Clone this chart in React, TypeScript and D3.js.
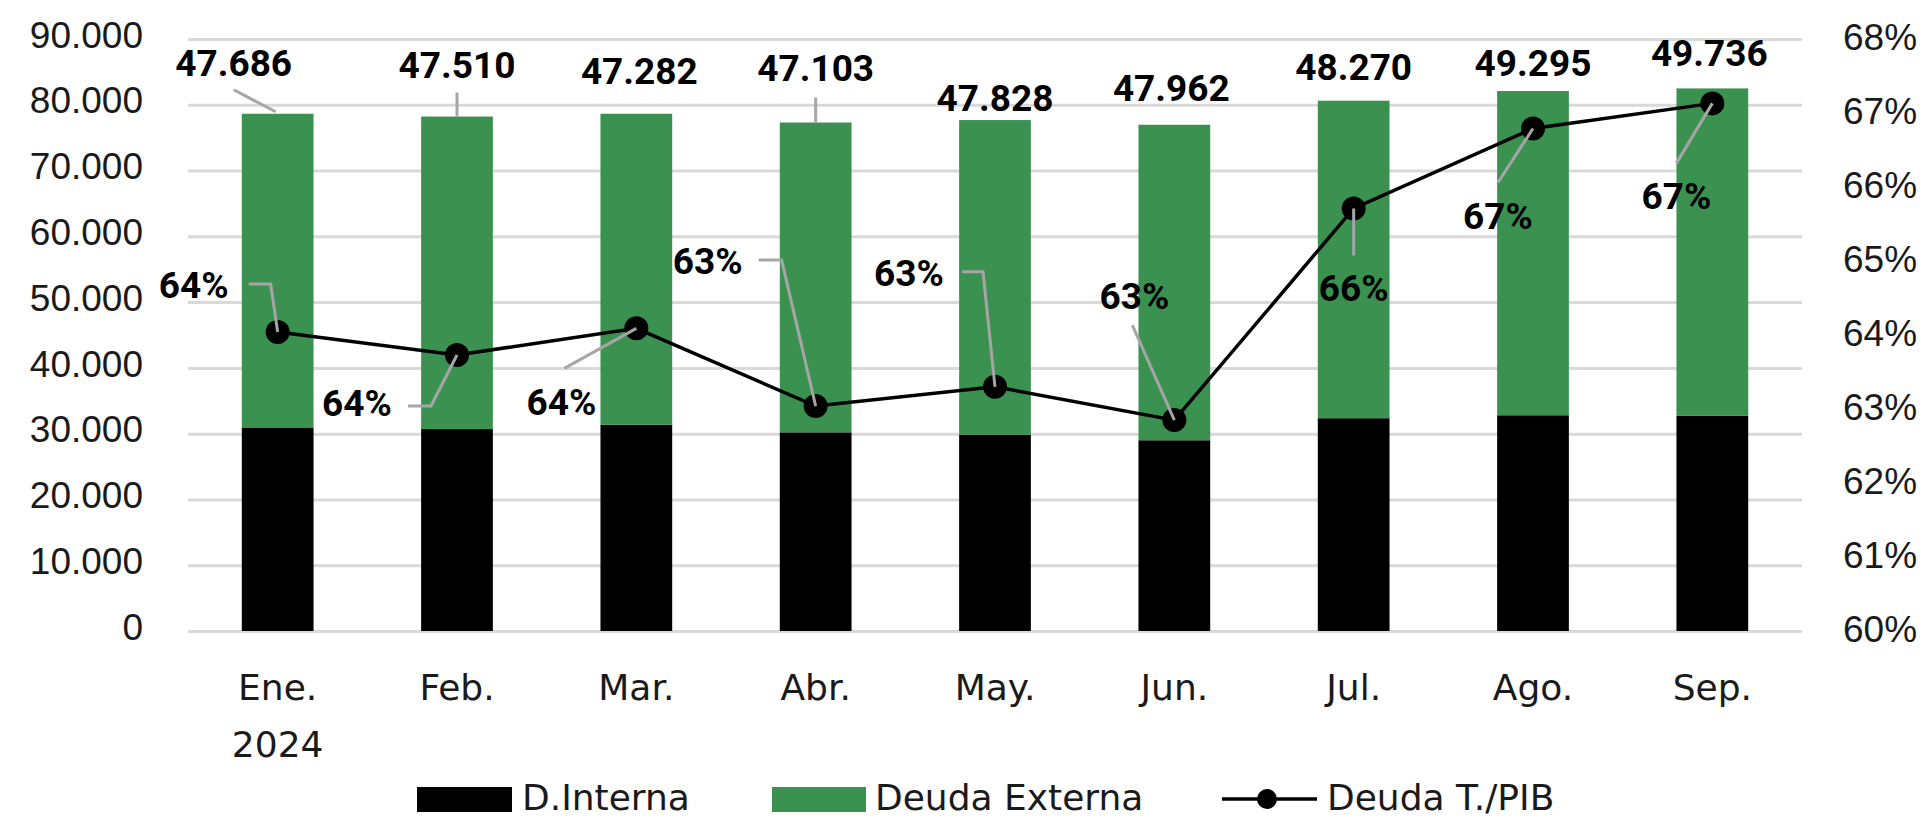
import React, { useEffect, useRef } from 'react';
import * as d3 from 'd3';

// months of 2024 (first one carries the year underneath)
const months = ['Ene.', 'Feb.', 'Mar.', 'Abr.', 'May.', 'Jun.', 'Jul.', 'Ago.', 'Sep.'];
const yearLabel = '2024';

// stacked bars, millions
const deudaInterna = [30950, 30700, 31350, 30200, 29850, 29000, 32350, 32800, 32750];
const deudaExterna = [47686, 47510, 47282, 47103, 47828, 47962, 48270, 49295, 49736];

// line on right axis, % of GDP
const deudaPib = [64.04, 63.73, 64.09, 63.04, 63.3, 62.85, 65.71, 66.79, 67.13];

const leftTicks = [0, 10000, 20000, 30000, 40000, 50000, 60000, 70000, 80000, 90000];
const rightTicks = [60, 61, 62, 63, 64, 65, 66, 67, 68];
const legendNames = ['D.Interna', 'Deuda Externa', 'Deuda T./PIB'];

// where Excel dragged the labels (offset from bar top / marker) and their leader lines
const barLabelPos = [[-44, -51], [0, -52], [3, -43], [0, -55], [0, -22], [-3, -37], [0, -34], [0, -28], [-3, -36]];
const barLeaders = [[[-44, -24], [-2, -2]], [[0, -24], [0, 0]], null, [[0, -25], [0, 0]], null, null, null, null, null];
const pctLabelPos = [[-84, -47], [-100, 48], [-75, 73], [-108, -145], [-86, -114], [-40, -124], [0, 79], [-35, 87], [-36, 92]];
const pctLeaders = [
  [[-29, -48], [-7, -48], [0, 0]],
  [[-49, 51], [-26, 51], [0, 0]],
  [[-72, 40], [0, 0]],
  [[-57, -146], [-34, -146], [0, 0]],
  [[-33, -115], [-12, -115], [0, 0]],
  [[-42, -95], [0, 0]],
  [[0, 0], [0, 47]],
  [[-35, 54], [0, 0]],
  [[-36, 60], [0, 0]],
];

const GREEN = '#3a9150';
const GRID = '#d9d9d9';
const LEADER = '#a6a6a6';

export default function App() {
  const ref = useRef<SVGSVGElement>(null);

  useEffect(() => {
    const width = 1926;
    const height = 820;
    const left = 188, right = 1802, top = 39, bottom = 631;

    const svg = d3.select(ref.current);
    svg.selectAll('*').remove();
    svg.append('rect').attr('width', width).attr('height', height).attr('fill', '#fff');

    const es = d3.formatLocale({ decimal: ',', thousands: '.', grouping: [3], currency: ['', ''] });
    const fmtNum = es.format(',d');
    const fmtPct = (v: number) => `${Math.round(v)}%`;

    const x = d3.scaleBand<string>()
      .domain(months)
      .range([left, right])
      .paddingInner(0.6)
      .paddingOuter(0.3);
    const yL = d3.scaleLinear().domain([0, 90000]).range([bottom, top]);
    const yR = d3.scaleLinear().domain([60, 68]).range([bottom, top]);
    const cx = (m: string) => (x(m) as number) + x.bandwidth() / 2;

    // gridlines
    const grid = svg.append('g')
      .attr('transform', `translate(${left},0)`)
      .call(d3.axisLeft(yL).tickValues(leftTicks).tickSize(-(right - left)).tickFormat(() => ''));
    grid.select('.domain').remove();
    grid.selectAll('line').attr('stroke', GRID).attr('stroke-width', 3);

    // left axis labels
    const axL = svg.append('g')
      .attr('transform', `translate(${left},0)`)
      .call(d3.axisLeft(yL).tickValues(leftTicks).tickSize(0).tickPadding(45).tickFormat((d) => fmtNum(d as number)));
    axL.select('.domain').remove();
    axL.selectAll('text')
      .attr('font-family', '"Liberation Sans", Arial, sans-serif')
      .attr('font-size', 37)
      .attr('fill', '#1a1a1a')
      .attr('dy', '0.22em');

    // right axis labels
    const axR = svg.append('g')
      .attr('transform', `translate(${right},0)`)
      .call(d3.axisRight(yR).tickValues(rightTicks).tickSize(0).tickPadding(41).tickFormat((d) => `${d}%`));
    axR.select('.domain').remove();
    axR.selectAll('text')
      .attr('font-family', '"Liberation Sans", Arial, sans-serif')
      .attr('font-size', 37)
      .attr('fill', '#1a1a1a')
      .attr('dy', '0.28em');

    // stacked bars
    const stackData = months.map((m, i) => ({ m, interna: deudaInterna[i], externa: deudaExterna[i] }));
    const series = d3.stack<any>().keys(['interna', 'externa'])(stackData);
    const colors = ['#000000', GREEN];
    series.forEach((s, k) => {
      svg.append('g')
        .selectAll('rect')
        .data(s)
        .enter()
        .append('rect')
        .attr('x', (d) => x(d.data.m) as number)
        .attr('width', x.bandwidth())
        .attr('y', (d) => yL(d[1]))
        .attr('height', (d) => yL(d[0]) - yL(d[1]))
        .attr('fill', colors[k]);
    });

    // x axis labels
    const xl = svg.append('g')
      .attr('font-family', '"DejaVu Sans", sans-serif')
      .attr('font-size', 36)
      .attr('fill', '#1a1a1a')
      .attr('text-anchor', 'middle');
    months.forEach((m, i) => {
      xl.append('text').attr('x', cx(m)).attr('y', 700).text(m);
      if (i === 0) {
        xl.append('text').attr('x', cx(m)).attr('y', 757).text(yearLabel);
      }
    });

    // line + markers
    const line = d3.line<number>()
      .x((d, i) => cx(months[i]))
      .y((d) => yR(d));
    svg.append('path')
      .datum(deudaPib)
      .attr('d', line)
      .attr('fill', 'none')
      .attr('stroke', '#000')
      .attr('stroke-width', 3.5);
    svg.append('g')
      .selectAll('circle')
      .data(deudaPib)
      .enter()
      .append('circle')
      .attr('cx', (d, i) => cx(months[i]))
      .attr('cy', (d) => yR(d))
      .attr('r', 12)
      .attr('fill', '#000');

    // leader lines
    const leaderPath = d3.line<number[]>().x((p) => p[0]).y((p) => p[1]);
    const leaders = svg.append('g')
      .attr('fill', 'none')
      .attr('stroke', LEADER)
      .attr('stroke-width', 3);
    months.forEach((m, i) => {
      const bx = cx(m);
      const by = yL(deudaInterna[i] + deudaExterna[i]);
      const bl = barLeaders[i];
      if (bl) leaders.append('path').attr('d', leaderPath(bl.map((p) => [bx + p[0], by + p[1]])));
      const py = yR(deudaPib[i]);
      leaders.append('path').attr('d', leaderPath(pctLeaders[i].map((p) => [bx + p[0], py + p[1]])));
    });

    // data labels
    const labels = svg.append('g')
      .attr('font-family', 'Roboto, "Liberation Sans", sans-serif')
      .attr('font-weight', 700)
      .attr('font-size', 37)
      .attr('fill', '#000')
      .attr('text-anchor', 'middle');
    months.forEach((m, i) => {
      const bx = cx(m);
      const by = yL(deudaInterna[i] + deudaExterna[i]);
      labels.append('text')
        .attr('x', bx + barLabelPos[i][0])
        .attr('y', by + barLabelPos[i][1])
        .attr('dy', '0.36em')
        .text(fmtNum(deudaExterna[i]));
      const py = yR(deudaPib[i]);
      labels.append('text')
        .attr('x', bx + pctLabelPos[i][0])
        .attr('y', py + pctLabelPos[i][1])
        .attr('dy', '0.36em')
        .text(fmtPct(deudaPib[i]));
    });

    // legend (sits right at the bottom edge, as in the original)
    const lg = svg.append('g')
      .attr('font-family', '"DejaVu Sans", sans-serif')
      .attr('font-size', 36)
      .attr('fill', '#1a1a1a');
    lg.append('rect').attr('x', 417).attr('y', 787).attr('width', 95).attr('height', 25).attr('fill', '#000');
    lg.append('text').attr('x', 522).attr('y', 810).text(legendNames[0]);
    lg.append('rect').attr('x', 772).attr('y', 787).attr('width', 94).attr('height', 25).attr('fill', GREEN);
    lg.append('text').attr('x', 875).attr('y', 810).text(legendNames[1]);
    lg.append('line').attr('x1', 1222).attr('x2', 1317).attr('y1', 799).attr('y2', 799)
      .attr('stroke', '#000').attr('stroke-width', 3.5);
    lg.append('circle').attr('cx', 1267).attr('cy', 799).attr('r', 10).attr('fill', '#000');
    lg.append('text').attr('x', 1327).attr('y', 810).text(legendNames[2]);
  }, []);

  return (
    <div>
      <svg ref={ref} width={1926} height={820} style={{ position: 'absolute', left: 0, top: 0 }} />
    </div>
  );
}
